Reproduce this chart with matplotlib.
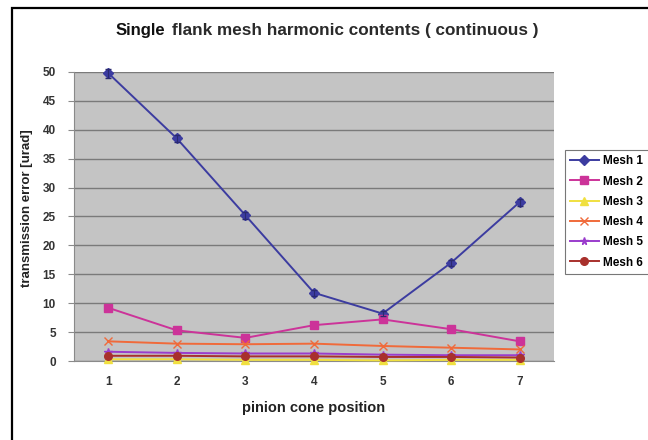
import matplotlib
matplotlib.use('Agg')
import matplotlib.pyplot as plt
from matplotlib.patches import Rectangle

# pinion cone positions and harmonic amplitudes [urad]
positions = [1, 2, 3, 4, 5, 6, 7]
mesh1 = [49.8, 38.5, 25.2, 11.8, 8.2, 17.0, 27.5]
mesh2 = [9.2, 5.3, 4.0, 6.2, 7.2, 5.5, 3.4]
mesh3 = [0.3, 0.3, 0.2, 0.2, 0.1, 0.2, 0.2]
mesh4 = [3.4, 3.0, 2.9, 3.0, 2.6, 2.3, 2.0]
mesh5 = [1.6, 1.4, 1.3, 1.3, 1.1, 1.0, 1.0]
mesh6 = [0.9, 0.9, 0.8, 0.8, 0.7, 0.7, 0.6]
mesh1_err = [0.8, 0.6, 0.6, 0.5, 0.4, 0.5, 0.6]

series = [
    ('Mesh 1', mesh1, '#3c3ca0', 'D'),
    ('Mesh 2', mesh2, '#cc3399', 's'),
    ('Mesh 3', mesh3, '#f0e040', '^'),
    ('Mesh 4', mesh4, '#f06a3a', 'x'),
    ('Mesh 5', mesh5, '#9a3ccc', '*'),
    ('Mesh 6', mesh6, '#a8302c', 'o'),
]

plt.rcParams['font.family'] = ['Liberation Sans', 'DejaVu Sans']

fig = plt.figure(figsize=(6.48, 4.4), dpi=100)
ax = fig.add_axes([74 / 648, 1 - 361 / 440, 480 / 648, 289 / 440])
ax.set_facecolor('#c4c4c4')

for name, vals, col, mk in series:
    ax.plot(positions, vals, color=col, marker=mk, markersize=5.5, lw=1.4,
            label=name, clip_on=False, zorder=3)
ax.errorbar(positions, mesh1, yerr=mesh1_err, fmt='none', ecolor='#2a2a70',
            elinewidth=0.8, capsize=2, clip_on=False, zorder=4)

ax.set_xlim(0.5, 7.5)
ax.set_ylim(0, 50)
ax.set_xticks(positions)
ax.set_yticks(range(0, 51, 5))
ax.yaxis.grid(True, color='#7a7a7a', lw=1)
ax.set_axisbelow(True)
for s in ['top', 'right']:
    ax.spines[s].set_visible(False)
ax.spines['left'].set_color('#8a8a8a')
ax.spines['bottom'].set_color('#8a8a8a')
ax.tick_params(axis='x', length=0, pad=11, labelsize=8.5, colors='#333333')
ax.tick_params(axis='y', length=4, pad=9, color='#8a8a8a', labelsize=8.5,
               colors='#333333')
for lab in ax.get_xticklabels() + ax.get_yticklabels():
    lab.set_fontweight('bold')

ax.set_xlabel('pinion cone position', fontsize=10.5, fontweight='bold',
              color='#222222', labelpad=9)
ax.set_ylabel('transmission error [urad]', fontsize=9.5, fontweight='bold',
              color='#222222')
ax.yaxis.set_label_coords(-0.086, 0.53)

# title: sharp "Single" followed by the blurred rest
fig.text(116 / 648, 1 - 30 / 440, 'Single', fontsize=12, fontweight='bold',
         va='center', ha='left', color='#111111')
fig.text(172 / 648, 1 - 30 / 440, 'flank mesh harmonic contents ( continuous )',
         fontsize=12.3, fontweight='bold', va='center', ha='left', color='#2a2a2a')

leg = fig.legend(loc='upper left', bbox_to_anchor=(565 / 648, 1 - 150 / 440),
                 prop={'size': 8.5, 'weight': 'bold'}, fancybox=False,
                 edgecolor='#777777', framealpha=1, handlelength=2.4,
                 labelspacing=0.7, borderpad=0.45, borderaxespad=0,
                 handletextpad=0.4)
leg.get_frame().set_linewidth(0.8)

# outer chart border
fig.patches.append(Rectangle((12 / 648, -0.1), 1.2, 1 - 8 / 440 + 0.1,
                             transform=fig.transFigure, fill=False,
                             edgecolor='black', lw=1.6))

fig.savefig('out.png', dpi=100)
